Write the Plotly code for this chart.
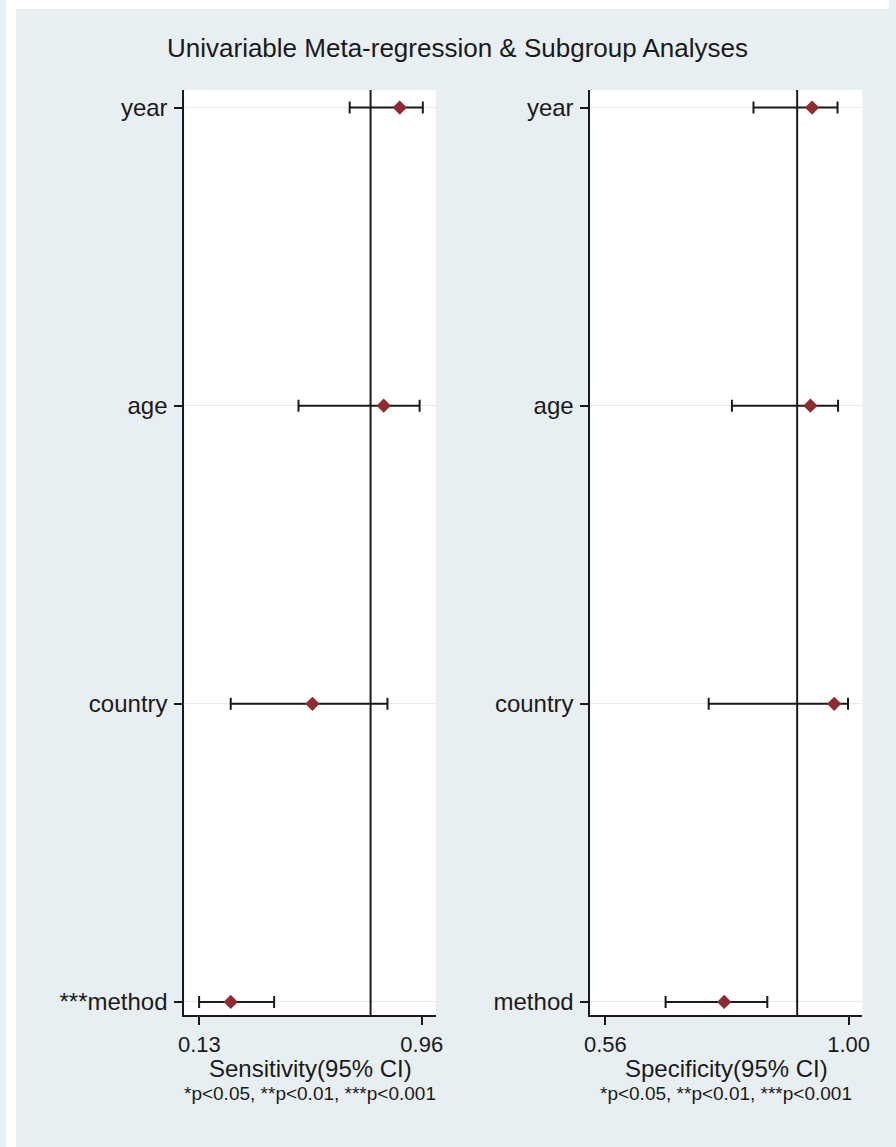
import plotly.graph_objects as go

# Rows, top to bottom
sens_labels = ["year", "age", "country", "***method"]
spec_labels = ["year", "age", "country", "method"]
row_pos = [3, 2, 1, 0]

# Sensitivity estimates with 95% CI
sens_est = [0.878, 0.818, 0.552, 0.247]
sens_lo = [0.691, 0.500, 0.247, 0.129]
sens_hi = [0.964, 0.952, 0.832, 0.409]
pooled_sens = 0.769

# Specificity estimates with 95% CI
spec_est = [0.934, 0.931, 0.974, 0.775]
spec_lo = [0.828, 0.789, 0.747, 0.669]
spec_hi = [0.980, 0.981, 0.999, 0.853]
pooled_spec = 0.907

sens_ticks = [0.13, 0.96]
spec_ticks = [0.56, 1.00]

W, H = 896, 1147
BG = "#e8eff2"
FONT = "Arial, Liberation Sans, sans-serif"
INK = "#1a1a1a"
MARK = "#8e2c32"


def py(y):
    return 1 - y / H


fig = go.Figure()


def add_panel(est, lo, hi, xa, ya):
    fig.add_trace(go.Scatter(
        x=est, y=row_pos, mode="markers", xaxis=xa, yaxis=ya,
        marker=dict(symbol="diamond", size=11, color=MARK),
        error_x=dict(type="data", symmetric=False,
                     array=[h - e for h, e in zip(hi, est)],
                     arrayminus=[e - l for e, l in zip(est, lo)],
                     color=INK, thickness=2, width=6),
        showlegend=False, hoverinfo="skip",
    ))


add_panel(sens_est, sens_lo, sens_hi, "x", "y")
add_panel(spec_est, spec_lo, spec_hi, "x2", "y2")

ydom = [py(1015), py(90)]
yrange = [-0.044, 3.059]
left_dom = [181 / W, 436 / W]
right_dom = [593 / W, 869 / W]

common_x = dict(showgrid=False, zeroline=False, showline=True, linecolor=INK,
                linewidth=2, ticks="outside", ticklen=8, tickwidth=2,
                tickcolor=INK, tickfont=dict(family=FONT, size=22, color=INK),
                ticklabelstandoff=1)
common_y = dict(showgrid=True, gridcolor="#e4ecef", gridwidth=1, zeroline=False,
                showline=True, linecolor=INK, linewidth=2, ticks="outside",
                ticklen=8, tickwidth=2, tickcolor=INK, tickvals=row_pos,
                tickfont=dict(family=FONT, size=24, color=INK), range=yrange,
                ticklabelstandoff=2)

fig.update_layout(
    width=W, height=H,
    margin=dict(l=0, r=0, t=0, b=0),
    paper_bgcolor=BG, plot_bgcolor="white",
    xaxis=dict(domain=left_dom, range=[0.074, 1.012],
               tickvals=sens_ticks, ticktext=[f"{v:.2f}" for v in sens_ticks],
               anchor="y", **common_x),
    yaxis=dict(domain=ydom, anchor="x", ticktext=sens_labels, **common_y),
    xaxis2=dict(domain=right_dom, range=[0.533, 1.025],
                tickvals=spec_ticks, ticktext=[f"{v:.2f}" for v in spec_ticks],
                anchor="y2", **common_x),
    yaxis2=dict(domain=ydom, anchor="x2", ticktext=spec_labels, **common_y),
    showlegend=False,
)

# Pooled reference lines
for xref, yref, val in [("x", "y domain", pooled_sens), ("x2", "y2 domain", pooled_spec)]:
    fig.add_shape(type="line", xref=xref, yref=yref, x0=val, x1=val, y0=0, y1=1,
                  line=dict(color=INK, width=2), layer="above")

# White outer border
fig.add_shape(type="rect", xref="paper", yref="paper", x0=0, x1=10 / W, y0=0, y1=1,
              fillcolor="white", line=dict(width=0), layer="above")
fig.add_shape(type="rect", xref="paper", yref="paper", x0=0, x1=1, y0=py(9), y1=1,
              fillcolor="white", line=dict(width=0), layer="above")

# Title, axis titles and footnotes
fig.add_annotation(text="Univariable Meta-regression & Subgroup Analyses",
                   x=458 / W, y=py(48), xref="paper", yref="paper",
                   xanchor="center", yanchor="middle",
                   showarrow=False, font=dict(family=FONT, size=26, color=INK))
for dom, label in [(left_dom, "Sensitivity(95% CI)"),
                   (right_dom, "Specificity(95% CI)")]:
    cx = (dom[0] + dom[1]) / 2
    fig.add_annotation(text=label, x=cx, y=py(1068), xref="paper", yref="paper",
                       xanchor="center", yanchor="middle",
                       showarrow=False, font=dict(family=FONT, size=24, color=INK))
    fig.add_annotation(text="*p<0.05, **p<0.01, ***p<0.001", x=cx, y=py(1093),
                       xref="paper", yref="paper", xanchor="center", yanchor="middle",
                       showarrow=False, font=dict(family=FONT, size=19, color=INK))

fig.write_html("out.html")
